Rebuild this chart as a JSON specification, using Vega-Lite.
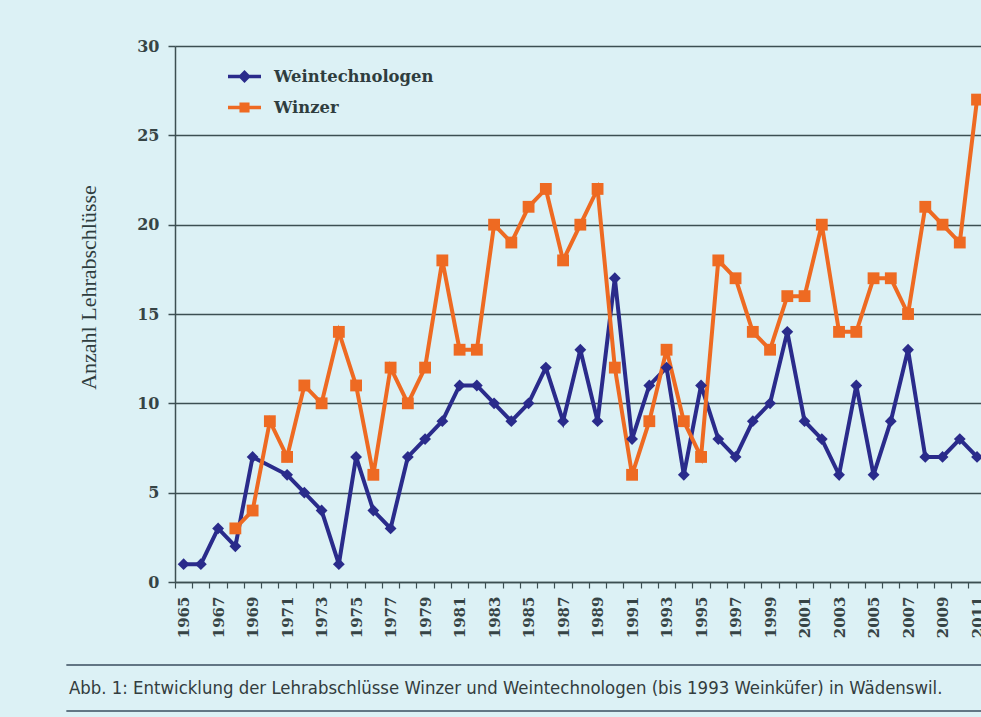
{
  "$schema": "https://vega.github.io/schema/vega-lite/v6.json",
  "width": 806,
  "height": 536,
  "autosize": {"type": "none"},
  "padding": {"left": 175, "top": 46, "right": 0, "bottom": 135},
  "background": "#dcf1f5",
  "config": {
    "view": {"stroke": null},
    "axisX": {
      "grid": false,
      "domainColor": "#3c4f52", "domainWidth": 1.5,
      "tickColor": "#3c4f52", "tickWidth": 1.2, "tickSize": 6,
      "labelFont": "DejaVu Serif", "labelFontWeight": "bold", "labelFontSize": 15,
      "labelColor": "#364445", "labelPadding": 8, "labelAngle": -90,
      "labelFlush": false, "labelOverlap": false
    },
    "axisY": {
      "grid": true, "gridColor": "#3c4f52", "gridWidth": 1.5,
      "domainColor": "#3c4f52", "domainWidth": 1.5,
      "tickColor": "#3c4f52", "tickWidth": 1.5, "tickSize": 7,
      "labelFont": "DejaVu Serif", "labelFontWeight": "bold", "labelFontSize": 16,
      "labelColor": "#364445", "labelPadding": 9,
      "titleFont": "Liberation Serif", "titleFontSize": 22, "titleFontWeight": "normal",
      "titleColor": "#2f3d3e", "titleX": -87, "titleY": 241, "titleBaseline": "middle", "titleAngle": -90
    }
  },
  "datasets": {
    "note": [{"caption": "Abb. 1: Entwicklung der Lehrabschlüsse Winzer und Weintechnologen (bis 1993 Weinküfer) in Wädenswil."}],
    "counts": [
    {"year":1965,"series":"Weintechnologen","n":1},
    {"year":1966,"series":"Weintechnologen","n":1},
    {"year":1967,"series":"Weintechnologen","n":3},
    {"year":1968,"series":"Weintechnologen","n":2},
    {"year":1969,"series":"Weintechnologen","n":7},
    {"year":1971,"series":"Weintechnologen","n":6},
    {"year":1972,"series":"Weintechnologen","n":5},
    {"year":1973,"series":"Weintechnologen","n":4},
    {"year":1974,"series":"Weintechnologen","n":1},
    {"year":1975,"series":"Weintechnologen","n":7},
    {"year":1976,"series":"Weintechnologen","n":4},
    {"year":1977,"series":"Weintechnologen","n":3},
    {"year":1978,"series":"Weintechnologen","n":7},
    {"year":1979,"series":"Weintechnologen","n":8},
    {"year":1980,"series":"Weintechnologen","n":9},
    {"year":1981,"series":"Weintechnologen","n":11},
    {"year":1982,"series":"Weintechnologen","n":11},
    {"year":1983,"series":"Weintechnologen","n":10},
    {"year":1984,"series":"Weintechnologen","n":9},
    {"year":1985,"series":"Weintechnologen","n":10},
    {"year":1986,"series":"Weintechnologen","n":12},
    {"year":1987,"series":"Weintechnologen","n":9},
    {"year":1988,"series":"Weintechnologen","n":13},
    {"year":1989,"series":"Weintechnologen","n":9},
    {"year":1990,"series":"Weintechnologen","n":17},
    {"year":1991,"series":"Weintechnologen","n":8},
    {"year":1992,"series":"Weintechnologen","n":11},
    {"year":1993,"series":"Weintechnologen","n":12},
    {"year":1994,"series":"Weintechnologen","n":6},
    {"year":1995,"series":"Weintechnologen","n":11},
    {"year":1996,"series":"Weintechnologen","n":8},
    {"year":1997,"series":"Weintechnologen","n":7},
    {"year":1998,"series":"Weintechnologen","n":9},
    {"year":1999,"series":"Weintechnologen","n":10},
    {"year":2000,"series":"Weintechnologen","n":14},
    {"year":2001,"series":"Weintechnologen","n":9},
    {"year":2002,"series":"Weintechnologen","n":8},
    {"year":2003,"series":"Weintechnologen","n":6},
    {"year":2004,"series":"Weintechnologen","n":11},
    {"year":2005,"series":"Weintechnologen","n":6},
    {"year":2006,"series":"Weintechnologen","n":9},
    {"year":2007,"series":"Weintechnologen","n":13},
    {"year":2008,"series":"Weintechnologen","n":7},
    {"year":2009,"series":"Weintechnologen","n":7},
    {"year":2010,"series":"Weintechnologen","n":8},
    {"year":2011,"series":"Weintechnologen","n":7},
    {"year":1968,"series":"Winzer","n":3},
    {"year":1969,"series":"Winzer","n":4},
    {"year":1970,"series":"Winzer","n":9},
    {"year":1971,"series":"Winzer","n":7},
    {"year":1972,"series":"Winzer","n":11},
    {"year":1973,"series":"Winzer","n":10},
    {"year":1974,"series":"Winzer","n":14},
    {"year":1975,"series":"Winzer","n":11},
    {"year":1976,"series":"Winzer","n":6},
    {"year":1977,"series":"Winzer","n":12},
    {"year":1978,"series":"Winzer","n":10},
    {"year":1979,"series":"Winzer","n":12},
    {"year":1980,"series":"Winzer","n":18},
    {"year":1981,"series":"Winzer","n":13},
    {"year":1982,"series":"Winzer","n":13},
    {"year":1983,"series":"Winzer","n":20},
    {"year":1984,"series":"Winzer","n":19},
    {"year":1985,"series":"Winzer","n":21},
    {"year":1986,"series":"Winzer","n":22},
    {"year":1987,"series":"Winzer","n":18},
    {"year":1988,"series":"Winzer","n":20},
    {"year":1989,"series":"Winzer","n":22},
    {"year":1990,"series":"Winzer","n":12},
    {"year":1991,"series":"Winzer","n":6},
    {"year":1992,"series":"Winzer","n":9},
    {"year":1993,"series":"Winzer","n":13},
    {"year":1994,"series":"Winzer","n":9},
    {"year":1995,"series":"Winzer","n":7},
    {"year":1996,"series":"Winzer","n":18},
    {"year":1997,"series":"Winzer","n":17},
    {"year":1998,"series":"Winzer","n":14},
    {"year":1999,"series":"Winzer","n":13},
    {"year":2000,"series":"Winzer","n":16},
    {"year":2001,"series":"Winzer","n":16},
    {"year":2002,"series":"Winzer","n":20},
    {"year":2003,"series":"Winzer","n":14},
    {"year":2004,"series":"Winzer","n":14},
    {"year":2005,"series":"Winzer","n":17},
    {"year":2006,"series":"Winzer","n":17},
    {"year":2007,"series":"Winzer","n":15},
    {"year":2008,"series":"Winzer","n":21},
    {"year":2009,"series":"Winzer","n":20},
    {"year":2010,"series":"Winzer","n":19},
    {"year":2011,"series":"Winzer","n":27}
    ]
  },
  "layer": [
    {
      "data": {"name": "note"},
      "mark": {"type": "rule", "color": "#3a4d5e", "strokeWidth": 1.5},
      "encoding": {
        "x": {"datum": 1958.2, "type": "quantitative", "scale": {"domain": [1964.5, 2011.23]}, "title": null},
        "x2": {"datum": 2013},
        "y": {"datum": -4.645, "type": "quantitative", "scale": {"domain": [0, 30]}, "title": "Anzahl Lehrabschlüsse"}
      }
    },
    {
      "data": {"name": "note"},
      "mark": {"type": "rule", "color": "#3a4d5e", "strokeWidth": 1.5},
      "encoding": {
        "x": {"datum": 1958.2, "type": "quantitative", "scale": {"domain": [1964.5, 2011.23]}, "title": null},
        "x2": {"datum": 2013},
        "y": {"datum": -7.22, "type": "quantitative", "scale": {"domain": [0, 30]}, "title": "Anzahl Lehrabschlüsse"}
      }
    },
    {
      "data": {"name": "note"},
      "mark": {"type": "text", "align": "left", "baseline": "middle", "font": "DejaVu Sans Condensed", "fontSize": 18.4, "fontWeight": "normal", "color": "#333d3e"},
      "encoding": {
        "x": {"datum": 1958.35, "type": "quantitative", "scale": {"domain": [1964.5, 2011.23]}, "title": null},
        "y": {"datum": -5.93, "type": "quantitative", "scale": {"domain": [0, 30]}, "title": "Anzahl Lehrabschlüsse"},
        "text": {"field": "caption"}
      }
    },
    {
      "data": {"name": "counts"},
      "mark": {"type": "line", "strokeWidth": 4},
      "encoding": {
        "x": {
          "field": "year", "type": "quantitative",
          "scale": {"domain": [1964.5, 2011.23]},
          "title": null,
          "axis": {
            "values": [1965,1966,1967,1968,1969,1970,1971,1972,1973,1974,1975,1976,1977,1978,1979,1980,1981,1982,1983,1984,1985,1986,1987,1988,1989,1990,1991,1992,1993,1994,1995,1996,1997,1998,1999,2000,2001,2002,2003,2004,2005,2006,2007,2008,2009,2010,2011],
            "tickCount": 100,
            "format": "d",
            "labelExpr": "datum.value % 2 == 1 ? datum.label : ''",
            "tickOffset": -8.63,
            "labelOffset": 8.63,
            "labelOverlap": false,
            "labelFlush": false,
            "labelBound": false
          }
        },
        "y": {
          "field": "n", "type": "quantitative",
          "scale": {"domain": [0, 30]},
          "title": "Anzahl Lehrabschlüsse",
          "axis": {"values": [0, 5, 10, 15, 20, 25, 30]}
        },
        "color": {
          "field": "series", "type": "nominal",
          "scale": {"domain": ["Weintechnologen", "Winzer"], "range": ["#2a2b8b", "#ee6a22"]},
          "legend": {
            "title": null, "orient": "none", "legendX": 51, "legendY": 12, "padding": 0,
            "symbolSize": 1089, "rowPadding": 1, "labelOffset": 11,
            "labelFont": "DejaVu Serif", "labelFontWeight": "bold", "labelFontSize": 16.4, "labelColor": "#2f3d3e",
            "encode": {
              "symbols": {
                "update": {
                  "shape": {"signal": "datum.value === 'Winzer' ? 'M-1,0H1M-0.2,-0.2H0.2V0.2H-0.2Z' : 'M-1,0H1M0,-0.24L0.24,0L0,0.24L-0.24,0Z'"},
                  "fill": {"signal": "datum.value === 'Winzer' ? '#ee6a22' : '#2a2b8b'"},
                  "stroke": {"signal": "datum.value === 'Winzer' ? '#ee6a22' : '#2a2b8b'"},
                  "strokeWidth": {"value": 3.5},
                  "opacity": {"value": 1}
                }
              }
            }
          }
        }
      }
    },
    {
      "data": {"name": "counts"},
      "transform": [{"filter": "datum.series === 'Weintechnologen'"}],
      "mark": {"type": "point", "filled": true, "opacity": 1, "size": 140, "shape": "diamond"},
      "encoding": {
        "x": {"field": "year", "type": "quantitative", "scale": {"domain": [1964.5, 2011.23]}, "title": null},
        "y": {"field": "n", "type": "quantitative", "scale": {"domain": [0, 30]}, "title": "Anzahl Lehrabschlüsse"},
        "color": {"field": "series", "type": "nominal", "scale": {"domain": ["Weintechnologen", "Winzer"], "range": ["#2a2b8b", "#ee6a22"]}}
      }
    },
    {
      "data": {"name": "counts"},
      "transform": [{"filter": "datum.series === 'Winzer'"}],
      "mark": {"type": "point", "filled": true, "opacity": 1, "size": 140, "shape": "square"},
      "encoding": {
        "x": {"field": "year", "type": "quantitative", "scale": {"domain": [1964.5, 2011.23]}, "title": null},
        "y": {"field": "n", "type": "quantitative", "scale": {"domain": [0, 30]}, "title": "Anzahl Lehrabschlüsse"},
        "color": {"field": "series", "type": "nominal", "scale": {"domain": ["Weintechnologen", "Winzer"], "range": ["#2a2b8b", "#ee6a22"]}}
      }
    }
  ]
}
